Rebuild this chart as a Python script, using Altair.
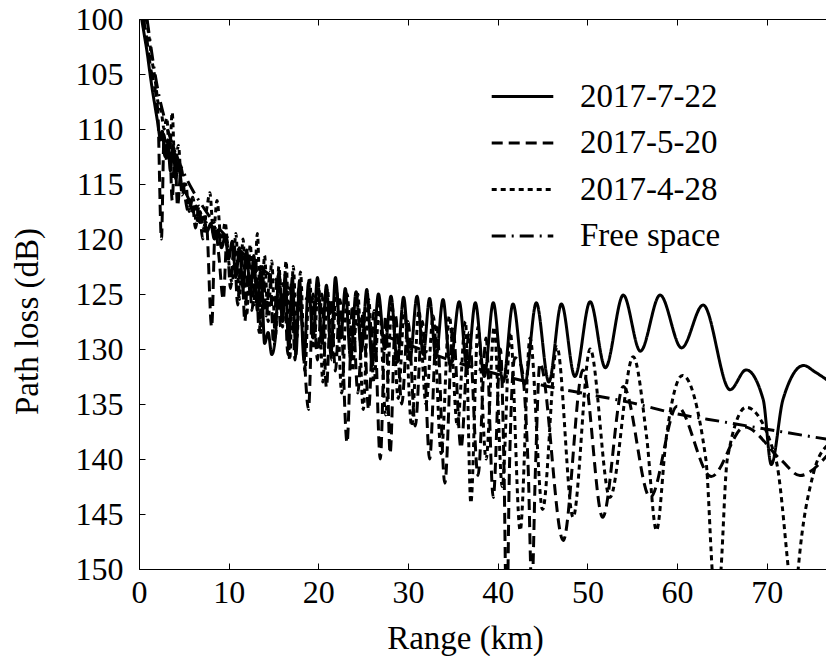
import altair as alt
import pandas as pd

FONT = "'Liberation Serif', 'Times New Roman', Times, serif"

series_names = ["2017-7-22", "2017-5-20", "2017-4-28", "Free space"]
dash_styles = [[1, 0], [11, 6], [5, 4], [14, 6, 2, 6]]
x_ticks = [0, 10, 20, 30, 40, 50, 60, 70]
y_ticks = [100, 105, 110, 115, 120, 125, 130, 135, 140, 145, 150]

# 2017-7-22 (solid)
solid = [
    (0.3, 100), (0.6, 101.5), (0.9, 103), (1.2, 104.8), (1.5, 106.5), (1.8, 108), (2.1, 109.5),
    (2.4, 111), (2.6, 110.2), (2.9, 112.5), (3.2, 111), (3.5, 113.8), (3.8, 111.5), (4.1, 114.5),
    (4.4, 113), (4.8, 115.5), (5.2, 115.8), (5.6, 116.5), (6.0, 117.5), (6.4, 117), (6.8, 118.5),
    (7.2, 118), (7.6, 119.3), (8.0, 118.6), (8.4, 120), (8.8, 119.2), (9.2, 120.8), (9.6, 119.8),
    (10.0, 121.8), (10.4, 120.2), (10.8, 123.5), (11.2, 120.8), (11.6, 124.5), (12.0, 121),
    (12.4, 125), (12.8, 121.5), (13.2, 126.5), (13.6, 122.5), (14.0, 129.5), (14.4, 128.5),
    (14.8, 130.5), (15.2, 129), (15.6, 123), (16.0, 127.5), (16.3, 123.2), (16.7, 130),
    (17.1, 123.5), (17.5, 130.5), (17.9, 123.8), (18.4, 131), (18.9, 124), (19.4, 129),
    (19.9, 123.5), (20.4, 129.5), (20.9, 124.2), (21.4, 130.5), (21.9, 123.5), (22.5, 129),
    (23.0, 124.5), (23.6, 131), (24.2, 124.8), (24.8, 130.2), (25.4, 124.6), (26.0, 131.5),
    (26.7, 125), (27.4, 130), (28.1, 125.2), (28.8, 131.2), (29.5, 125.3), (30.2, 131),
    (31.0, 125.2), (31.7, 130.5), (32.4, 125.4), (33.1, 130.8), (33.9, 125.5), (34.7, 131.5),
    (35.7, 125.7), (36.6, 131.8), (37.5, 125.8), (38.5, 132.5), (39.5, 125.8), (40.6, 133),
    (41.7, 125.9), (43.0, 133.2), (44.3, 125.8), (45.7, 133), (47.1, 125.9), (48.6, 132.5),
    (50.3, 125.7), (52.0, 131.7), (54.0, 125.1), (55.9, 130.2), (58.1, 125.1), (60.5, 129.9),
    (62.9, 126), (65.9, 133.7), (67.7, 131.9), (69.6, 134.6), (70.5, 140.5), (71.8, 134.6),
    (74.1, 131.5), (75.4, 132.1), (76.7, 132.8),
]

# 2017-5-20 (dashed)
dashed = [
    (0.5, 100), (0.9, 102), (1.3, 104.5), (1.7, 106), (2.1, 108.5), (2.5, 120), (2.8, 110.5),
    (3.1, 113), (3.4, 111), (3.7, 116.5), (4.0, 112), (4.3, 117), (4.7, 113.5), (5.1, 116),
    (5.5, 117.5), (5.9, 116.3), (6.3, 119), (6.7, 117), (7.1, 120), (7.5, 118.5), (8.1, 128),
    (8.5, 119), (8.9, 121.5), (9.4, 125.5), (9.8, 120), (10.2, 124.5), (10.6, 120.5), (11.0, 126),
    (11.4, 121), (11.8, 127.5), (12.2, 121.5), (12.6, 126.5), (13.0, 122), (13.4, 128.5),
    (13.8, 122.5), (14.2, 127), (14.6, 123), (15.0, 129.5), (15.4, 123.5), (15.8, 128),
    (16.2, 124), (16.6, 130.5), (17.0, 124), (17.4, 131), (17.8, 124.5), (18.3, 129),
    (18.9, 135.5), (19.4, 125), (19.9, 131), (20.4, 125), (20.9, 133.5), (21.4, 125.5),
    (21.9, 132), (22.4, 125.5), (23.2, 138.5), (23.8, 126), (24.4, 134), (25.0, 126.5),
    (25.6, 135.5), (26.2, 126.5), (26.9, 140), (27.5, 127), (28.0, 139.5), (28.6, 127),
    (29.3, 135), (30.0, 127.5), (30.8, 137), (31.6, 127.5), (32.4, 140), (33.2, 128),
    (34.1, 142.2), (35.0, 128), (35.9, 139), (36.8, 128.5), (37.8, 141.5), (38.7, 129),
    (39.5, 143.5), (40.3, 130), (40.7, 141), (41.0, 156), (41.3, 141), (41.9, 130.8),
    (42.6, 131.5), (43.4, 141), (43.8, 152), (44.2, 141), (44.7, 131.3), (47.3, 147.4),
    (49.5, 131.9), (51.7, 145.3), (54.0, 133.4), (57.0, 143.5), (60.0, 135.2), (63.8, 141.6),
    (67.5, 137.1), (71.6, 140.1), (73.7, 141.5), (76.7, 139.7),
]

# 2017-4-28 (dotted)
dotted = [
    (0.8, 100), (1.1, 101.5), (1.4, 103.5), (1.8, 105.5), (2.1, 107.5), (2.5, 108.5), (2.8, 110),
    (3.1, 109), (3.4, 112.5), (3.7, 108.5), (4.0, 113.5), (4.4, 111.5), (4.8, 116), (5.2, 115),
    (5.6, 117.5), (6.0, 116.2), (6.4, 118.5), (6.8, 117.5), (7.2, 119), (7.6, 117), (7.9, 115.8),
    (8.3, 119.5), (8.7, 116.5), (9.2, 120.5), (9.6, 118.5), (10.0, 122), (10.4, 124),
    (10.8, 119.5), (11.2, 125.5), (11.6, 120), (12.0, 127), (12.4, 120.5), (12.8, 126),
    (13.2, 119.5), (13.6, 128.5), (14.0, 121.5), (14.4, 127.5), (14.8, 122), (15.2, 129),
    (15.6, 122.5), (16.0, 128), (16.4, 122), (16.8, 131), (17.2, 122.5), (17.6, 129), (18.0, 123),
    (18.5, 132), (19.0, 123.5), (19.5, 130), (20.0, 124), (20.5, 133), (21.0, 124.5), (21.5, 131),
    (22.0, 124.5), (22.6, 134), (23.2, 125), (23.8, 132), (24.4, 125), (25.0, 135.5),
    (25.6, 125.5), (26.2, 133), (26.8, 126), (27.5, 136), (28.2, 126), (28.9, 134.5),
    (29.6, 126.5), (30.4, 137), (31.2, 126.5), (32.0, 135), (32.8, 127), (33.7, 139.5),
    (34.6, 127), (35.5, 137), (36.4, 127.5), (37.0, 144), (37.8, 128), (38.7, 140), (39.6, 128),
    (40.5, 142.5), (41.4, 128.5), (42.5, 146.5), (43.6, 129), (45.0, 144.6), (46.6, 129.8),
    (48.4, 145.3), (50.3, 130), (52.5, 143.5), (55.1, 130.7), (56.6, 138), (57.7, 146.5),
    (58.8, 138), (60.6, 132.4), (63.2, 140), (63.9, 150), (64.4, 156), (64.9, 150), (65.6, 140),
    (67.7, 135.3), (71.0, 140), (72.4, 150), (73.0, 155), (73.5, 150), (75.2, 141.3),
    (76.7, 138.8),
]

# Free space (dash-dot)
free_space = [
    (0.9, 100), (1.5, 103.5), (2, 106), (3, 109.5), (4, 112), (5, 114), (6, 115.6), (7, 116.9),
    (8, 118.1), (10, 120), (12, 121.6), (14, 122.9), (16, 124.1), (18, 125.1), (20, 126),
    (25, 128), (30, 129.6), (35, 131.1), (40, 132.3), (45, 133.3), (50, 134.1), (55, 134.9),
    (60, 135.9), (65, 136.6), (70, 137.3), (76.7, 138.2),
]

rows = []
for name, pts in zip(series_names, [solid, dashed, dotted, free_space]):
    for i, (x, y) in enumerate(pts):
        rows.append({"series": name, "km": x, "loss": y, "i": i})
df = pd.DataFrame(rows)

xs = alt.Scale(domain=[0, 76.6], nice=False, zero=False)
ys = alt.Scale(domain=[100, 150], reverse=True, nice=False, zero=False)

base = alt.Chart(df)

lines = base.mark_line(strokeWidth=3, color="black", clip=True, interpolate="monotone").encode(
    x=alt.X("km:Q", scale=xs, axis=alt.Axis(
        values=x_ticks, ticks=False, tickSize=0, domain=True, domainColor="black", domainWidth=1,
        labelFont=FONT, labelFontSize=32, labelColor="black", labelPadding=8, labelFlush=False,
        grid=False, title="Range (km)", titleFont=FONT, titleFontSize=33, titleFontWeight="normal",
        titleColor="black", titleX=326, titleY=79, titleBaseline="alphabetic", titleAlign="center")),
    y=alt.Y("loss:Q", scale=ys, axis=alt.Axis(
        values=y_ticks, ticks=False, tickSize=0, domain=True, domainColor="black", domainWidth=1,
        labelFont=FONT, labelFontSize=32, labelColor="black", labelPadding=16, labelFlush=False,
        grid=False, title="Path loss (dB)", titleFont=FONT, titleFontSize=33,
        titleFontWeight="normal", titleColor="black", titleAngle=270, titleX=-102, titleY=302,
        titleBaseline="alphabetic", titleAlign="center")),
    strokeDash=alt.StrokeDash("series:N", scale=alt.Scale(domain=series_names, range=dash_styles),
        legend=alt.Legend(title=None, orient="none", legendX=360, legendY=54,
                          symbolType="M-1.4,0H1.4", symbolSize=1936, symbolStrokeWidth=2.8,
                          symbolStrokeColor="black", labelFont=FONT, labelFontSize=33,
                          labelColor="black", labelOffset=34, rowPadding=5.5, padding=0,
                          labelLimit=0)),
    order=alt.Order("i:Q"),
)

ticks_bl = base.mark_line(opacity=0).encode(
    x=alt.X("km:Q", scale=xs, axis=alt.Axis(orient="bottom", offset=-6, values=x_ticks, tickSize=6,
        tickColor="black", labels=False, domain=False, grid=False, title=None)),
    y=alt.Y("loss:Q", scale=ys, axis=alt.Axis(orient="left", offset=-6, values=y_ticks, tickSize=6,
        tickColor="black", labels=False, domain=False, grid=False, title=None)),
    detail="series:N",
)

ticks_top = base.mark_line(opacity=0).encode(
    x=alt.X("km:Q", scale=xs, axis=alt.Axis(orient="top", offset=-6, values=x_ticks, tickSize=6,
        tickColor="black", labels=False, domain=False, grid=False, title=None)),
    y=alt.Y("loss:Q", scale=ys, axis=None),
    detail="series:N",
)

top_border = base.mark_line(opacity=0).encode(
    x=alt.X("km:Q", scale=xs, axis=alt.Axis(orient="top", ticks=False, labels=False, domain=True,
        domainColor="black", domainWidth=1, grid=False, title=None)),
    y=alt.Y("loss:Q", scale=ys, axis=None),
    detail="series:N",
)

chart = alt.layer(lines, ticks_bl, ticks_top, top_border).resolve_axis(
    x="independent", y="independent"
).properties(
    width=687, height=550,
    autosize=alt.AutoSizeParams(type="none"),
    padding={"left": 139, "top": 19, "right": 0, "bottom": 87},
    background="white",
).configure_view(stroke=None)

chart.save("out.html", embed_options={"renderer": "svg", "actions": False})
